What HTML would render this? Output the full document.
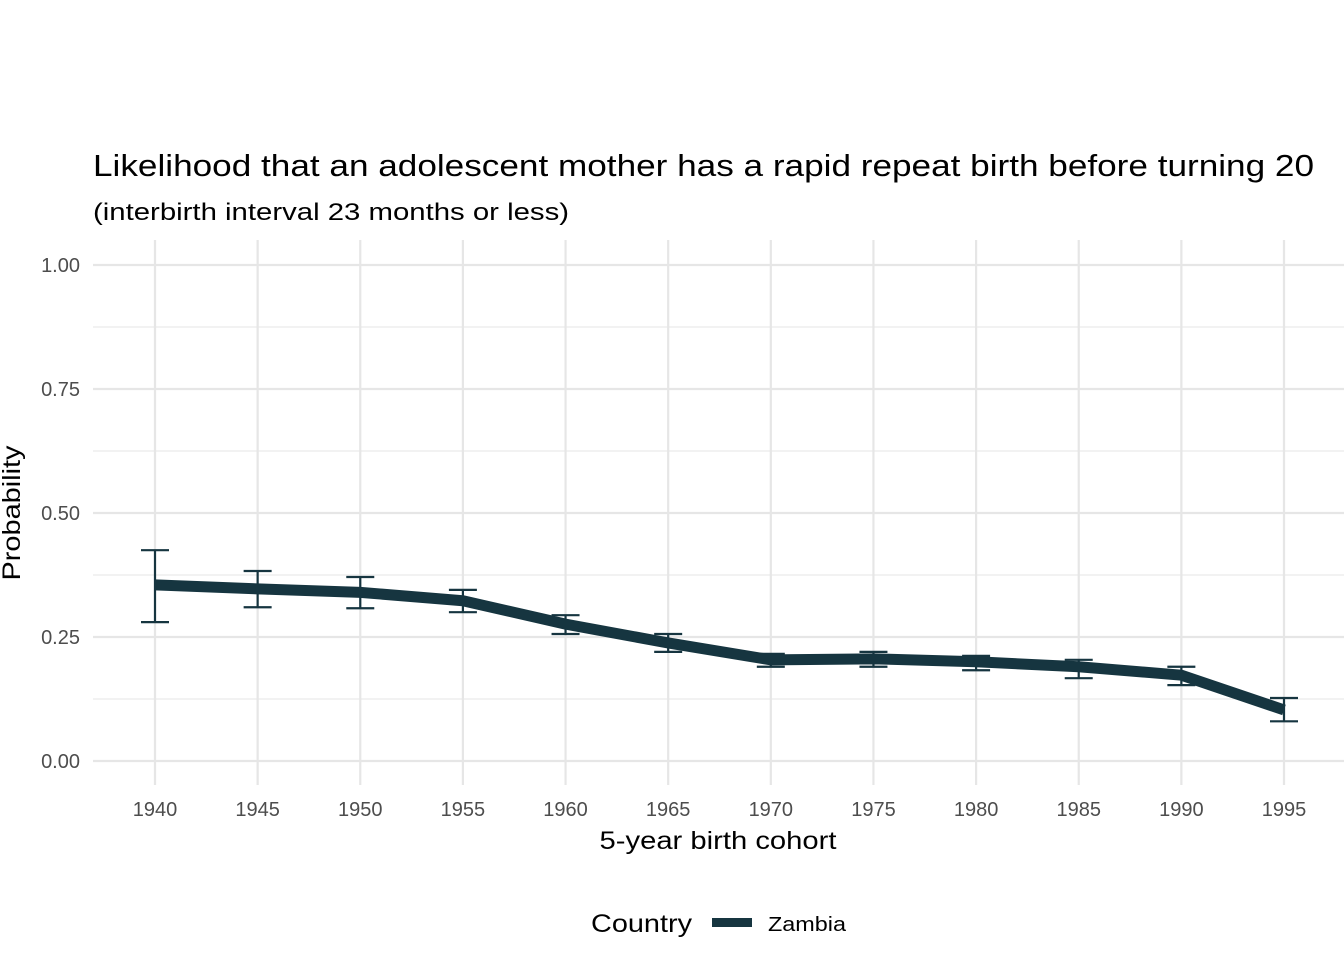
<!DOCTYPE html>
<html><head><meta charset="utf-8"><style>
body{margin:0;background:#fff;}
svg{display:block;font-family:"Liberation Sans",Arial,sans-serif;}
</style></head><body>
<svg id="chart" width="1344" height="960">
<text x="93" y="176" font-size="31" textLength="1221" lengthAdjust="spacingAndGlyphs" fill="#000">Likelihood that an adolescent mother has a rapid repeat birth before turning 20</text>
<text x="93" y="220" font-size="24" textLength="476" lengthAdjust="spacingAndGlyphs" fill="#000">(interbirth interval 23 months or less)</text>
<g id="grid"></g><g id="axes"></g><g id="marks"></g>
<text x="20" y="513" font-size="25" textLength="135" lengthAdjust="spacingAndGlyphs" text-anchor="middle" transform="rotate(-90 20 513)">Probability</text>
<text x="718" y="849" font-size="25" textLength="237" lengthAdjust="spacingAndGlyphs" text-anchor="middle">5-year birth cohort</text>
<g>
<text x="591" y="932" font-size="25" textLength="101" lengthAdjust="spacingAndGlyphs">Country</text>
<rect x="712" y="918" width="40" height="9" fill="#163540"></rect>
<text x="768" y="931" font-size="20" textLength="78" lengthAdjust="spacingAndGlyphs">Zambia</text>
</g>
</svg>
<script>
const years=[1940,1945,1950,1955,1960,1965,1970,1975,1980,1985,1990,1995];
const probs=[0.355,0.347,0.34,0.323,0.276,0.238,0.204,0.206,0.2,0.19,0.173,0.103];
const upper=[0.425,0.383,0.371,0.345,0.294,0.256,0.216,0.22,0.212,0.204,0.19,0.127];
const lower=[0.28,0.31,0.308,0.30,0.256,0.22,0.19,0.19,0.183,0.167,0.153,0.08];
const yTicks=[0,0.25,0.5,0.75,1];
const yTickLabels=["0.00","0.25","0.50","0.75","1.00"];
const NS="http://www.w3.org/2000/svg";
const xS=v=>155+(v-1940)*(1284-155)/55;
const yS=v=>761-v*496;
const grid=document.getElementById('grid'),axes=document.getElementById('axes'),marks=document.getElementById('marks');
function mk(tag,attrs,parent){const e=document.createElementNS(NS,tag);for(const k in attrs)e.setAttribute(k,attrs[k]);parent.appendChild(e);return e;}
for(let i=0;i<yTicks.length;i++){
 const y=yS(yTicks[i]);
 const l=mk('line',{x1:93,x2:1344,y1:y,y2:y,stroke:'#e6e6e6','stroke-width':2.2},grid);
 
 
 if(i<yTicks.length-1){const ym=yS((yTicks[i]+yTicks[i+1])/2);
  const m=mk('line',{x1:93,x2:1344,y1:ym,y2:ym,stroke:'#e9e9e9','stroke-width':1.3},grid);
  
  }
 const t=mk('text',{x:80,y:y+7,'font-size':20,fill:'#4d4d4d','text-anchor':'end'},axes);
 t.textContent=yTickLabels[i];
 
 
}
years.forEach(yr=>{
 const x=xS(yr);
 const l=mk('line',{x1:x,x2:x,y1:240,y2:785,stroke:'#e6e6e6','stroke-width':2.2},grid);
 
 
 const t=mk('text',{x:x,y:816,'font-size':20,fill:'#4d4d4d','text-anchor':'middle'},axes);
 t.textContent=yr;
 
 
});
years.forEach((yr,i)=>{
 const x=xS(yr),yu=yS(upper[i]),yl=yS(lower[i]);
 const g=mk('path',{d:`M${x-14},${yu}H${x+14}M${x},${yu}V${yl}M${x-14},${yl}H${x+14}`,stroke:'#163540','stroke-width':2.2,fill:'none'},marks);
 
 
});
const p=mk('polyline',{points:years.map((yr,i)=>xS(yr)+','+yS(probs[i])).join(' '),stroke:'#163540','stroke-width':11,fill:'none','stroke-linejoin':'round'},marks);


</script>
</body></html>
